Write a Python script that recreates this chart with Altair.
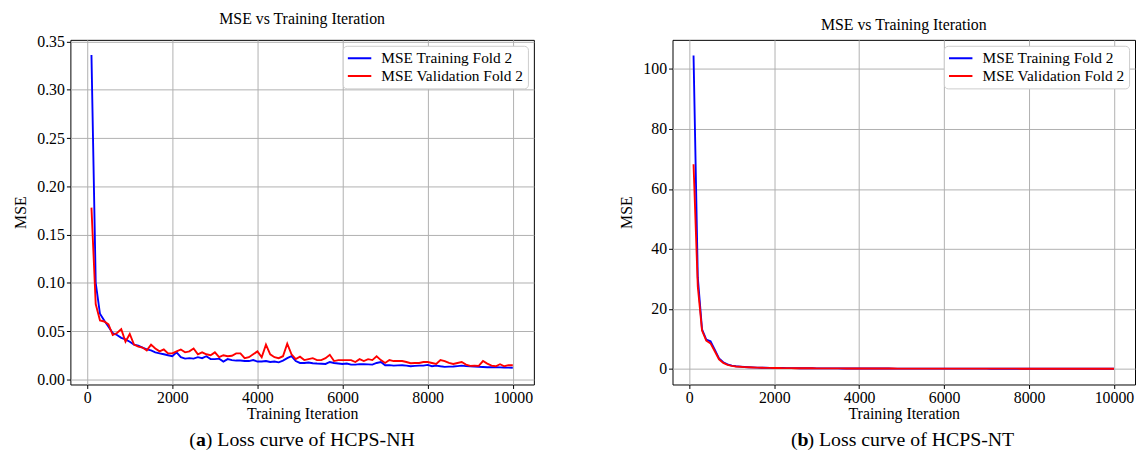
import altair as alt
import pandas as pd

# ---------------- data ----------------
iterations = list(range(100, 10001, 100))

series_names = ["MSE Training Fold 2", "MSE Validation Fold 2"]
series_colors = ["#0000ff", "#ff0000"]

x_ticks = [0, 2000, 4000, 6000, 8000, 10000]
nh_yticks = [0.0, 0.05, 0.10, 0.15, 0.20, 0.25, 0.30, 0.35]
nt_yticks = [0, 20, 40, 60, 80, 100]

nh_train = [
    0.336, 0.100, 0.068, 0.061, 0.0545, 0.048, 0.046, 0.043, 0.0415, 0.039,
    0.036, 0.035, 0.033, 0.031, 0.030, 0.028, 0.027, 0.026, 0.025, 0.024,
    0.028, 0.023, 0.0215, 0.022, 0.0215, 0.023, 0.022, 0.024, 0.021, 0.021,
    0.0215, 0.0185, 0.021, 0.020, 0.0195, 0.0195, 0.019, 0.019, 0.020, 0.0185,
    0.0185, 0.019, 0.018, 0.0185, 0.0177, 0.0195, 0.022, 0.024, 0.019, 0.017,
    0.017, 0.0175, 0.0167, 0.0164, 0.0162, 0.016, 0.018, 0.017, 0.0165, 0.016,
    0.0164, 0.0153, 0.0153, 0.0158, 0.0157, 0.0155, 0.0153, 0.017, 0.018, 0.0147,
    0.0148, 0.0143, 0.0145, 0.0147, 0.0142, 0.0136, 0.014, 0.0143, 0.0142, 0.015,
    0.0136, 0.0143, 0.0136, 0.013, 0.0132, 0.0133, 0.0138, 0.0143, 0.0138, 0.0136,
    0.0133, 0.013, 0.0128, 0.0126, 0.0127, 0.0126, 0.0125, 0.0123, 0.0122, 0.012,
]

nh_val = [
    0.178, 0.078, 0.061, 0.060, 0.057, 0.046, 0.048, 0.052, 0.039, 0.047,
    0.036, 0.034, 0.033, 0.030, 0.036, 0.032, 0.029, 0.031, 0.027, 0.027,
    0.029, 0.031, 0.028, 0.029, 0.032, 0.026, 0.028, 0.026, 0.025, 0.028,
    0.023, 0.025, 0.024, 0.0245, 0.027, 0.027, 0.022, 0.023, 0.026, 0.029,
    0.023, 0.036, 0.026, 0.023, 0.022, 0.024, 0.037, 0.026, 0.021, 0.0235,
    0.020, 0.021, 0.022, 0.020, 0.020, 0.022, 0.0255, 0.019, 0.020, 0.020,
    0.020, 0.020, 0.018, 0.021, 0.019, 0.021, 0.020, 0.024, 0.020, 0.017,
    0.020, 0.019, 0.019, 0.019, 0.018, 0.0167, 0.017, 0.017, 0.018, 0.018,
    0.017, 0.016, 0.020, 0.019, 0.017, 0.016, 0.017, 0.018, 0.0153, 0.014,
    0.0143, 0.014, 0.019, 0.0164, 0.0143, 0.0136, 0.0157, 0.0136, 0.0147, 0.0147,
]

nt_train = [
    104.5, 30.5, 13.2, 9.8, 9.2, 6.4, 3.5, 2.2, 1.5, 1.1,
    0.88, 0.74, 0.63, 0.55, 0.49, 0.44, 0.40, 0.37, 0.34, 0.32,
    0.30, 0.28, 0.265, 0.25, 0.24, 0.23, 0.22, 0.21, 0.20, 0.19,
    0.185, 0.18, 0.17, 0.165, 0.16, 0.155, 0.15, 0.145, 0.14, 0.135,
    0.13, 0.128, 0.125, 0.12, 0.118, 0.115, 0.112, 0.11, 0.107, 0.105,
    0.103, 0.10, 0.098, 0.096, 0.094, 0.092, 0.09, 0.088, 0.087, 0.085,
    0.084, 0.082, 0.081, 0.08, 0.078, 0.077, 0.076, 0.075, 0.074, 0.073,
    0.072, 0.071, 0.07, 0.069, 0.068, 0.067, 0.066, 0.066, 0.065, 0.064,
    0.063, 0.063, 0.062, 0.061, 0.06, 0.06, 0.059, 0.058, 0.058, 0.057,
    0.056, 0.056, 0.055, 0.055, 0.054, 0.054, 0.053, 0.053, 0.052, 0.052,
]

nt_val = [
    68.2, 27.5, 12.8, 9.4, 8.5, 5.9, 3.2, 2.0, 1.35, 1.0,
    0.82, 0.70, 0.60, 0.53, 0.47, 0.43, 0.39, 0.36, 0.33, 0.31,
    0.29, 0.27, 0.26, 0.245, 0.235, 0.225, 0.215, 0.205, 0.20, 0.19,
    0.185, 0.178, 0.172, 0.166, 0.16, 0.156, 0.151, 0.147, 0.143, 0.139,
    0.135, 0.131, 0.128, 0.125, 0.122, 0.119, 0.116, 0.114, 0.111, 0.109,
    0.107, 0.105, 0.103, 0.101, 0.099, 0.097, 0.095, 0.094, 0.092, 0.091,
    0.089, 0.088, 0.087, 0.086, 0.084, 0.083, 0.082, 0.081, 0.08, 0.079,
    0.078, 0.077, 0.076, 0.075, 0.074, 0.074, 0.073, 0.072, 0.071, 0.071,
    0.07, 0.069, 0.069, 0.068, 0.067, 0.067, 0.066, 0.066, 0.065, 0.065,
    0.064, 0.064, 0.063, 0.063, 0.062, 0.062, 0.061, 0.061, 0.06, 0.06,
]

captions = [("a", ") Loss curve of HCPS-NH"), ("b", ") Loss curve of HCPS-NT")]
title_text = "MSE vs Training Iteration"

# ---------------- styling ----------------
FONT = "Liberation Serif"
PLOT_W = 468
PLOT_H = 348
CAP_SIZE = 20


def make_df(train, val):
    rows = []
    for it, v in zip(iterations, train):
        rows.append({"iter": it, "mse": v, "series": series_names[0]})
    for it, v in zip(iterations, val):
        rows.append({"iter": it, "mse": v, "series": series_names[1]})
    return pd.DataFrame(rows)


def panel(train, val, ydomain, yticks, yfmt, caption, W, H):
    df = make_df(train, val)
    lines = alt.Chart(df).mark_line(strokeWidth=1.9, clip=True).encode(
        x=alt.X(
            "iter:Q",
            scale=alt.Scale(domain=[-395, 10495], nice=False, zero=False),
            axis=alt.Axis(values=x_ticks, format="d", title="Training Iteration",
                          labelFlush=False),
        ),
        y=alt.Y(
            "mse:Q",
            scale=alt.Scale(domain=ydomain, nice=False, zero=False),
            axis=alt.Axis(values=yticks, format=yfmt, title="MSE", labelFlush=False),
        ),
        color=alt.Color(
            "series:N",
            scale=alt.Scale(domain=series_names, range=series_colors),
            legend=alt.Legend(
                title=None,
                orient="top-right",
                offset=6,
                fillColor="white",
                strokeColor="#cccccc",
                cornerRadius=4,
                padding=4,
                labelFont=FONT,
                labelFontSize=15.5,
                labelColor="black",
                labelLimit=400,
                labelOffset=9,
                rowPadding=1,
                clipHeight=17,
                symbolType="stroke",
                symbolSize=560,
                symbolStrokeWidth=2,
            ),
        ),
    )

    letter, rest = caption
    w_open = 0.333 * CAP_SIZE
    w_letter = 0.5 * CAP_SIZE
    w_rest = 10.56 * CAP_SIZE
    total = w_open + w_letter + w_rest
    x0 = W / 2 - total / 2
    cap_y = H + 56
    one = pd.DataFrame({"k": [0]})
    c_open = alt.Chart(one).mark_text(
        text="(", font=FONT, fontSize=CAP_SIZE, align="left", baseline="middle", color="black"
    ).encode(x=alt.value(x0), y=alt.value(cap_y))
    c_letter = alt.Chart(one).mark_text(
        text=letter, font=FONT, fontSize=CAP_SIZE, fontWeight="bold", align="left",
        baseline="middle", color="black"
    ).encode(x=alt.value(x0 + w_open), y=alt.value(cap_y))
    c_rest = alt.Chart(one).mark_text(
        text=rest, font=FONT, fontSize=CAP_SIZE, align="left", baseline="middle", color="black"
    ).encode(x=alt.value(x0 + w_open + w_letter), y=alt.value(cap_y))

    return alt.layer(lines, c_open, c_letter, c_rest).properties(
        width=W,
        height=H,
        title=alt.TitleParams(title_text, font=FONT, fontSize=16, fontWeight="normal",
                              color="black", offset=7),
    )


left = panel(nh_train, nh_val, [-0.0053, 0.3518], nh_yticks, ".2f", captions[0], PLOT_W, PLOT_H)
right = panel(nt_train, nt_val, [-5.2, 109.7], nt_yticks, "d", captions[1], PLOT_W - 1, PLOT_H)

chart = (
    alt.hconcat(left, right, spacing=84)
    .resolve_scale(color="independent", x="independent", y="independent")
    .resolve_legend(color="independent")
    .configure_view(stroke="black", strokeWidth=1)
    .configure_axis(
        grid=True,
        gridColor="#b0b0b0",
        gridWidth=1,
        domain=False,
        tickColor="black",
        tickSize=4,
        tickWidth=1,
        labelFont=FONT,
        labelFontSize=16,
        labelColor="black",
        labelPadding=2,
        titleFont=FONT,
        titleFontSize=16,
        titleFontWeight="normal",
        titleColor="black",
    )
    .configure_axisX(titlePadding=0, labelPadding=1)
    .configure_axisY(titlePadding=8)
    .properties(padding={"left": 4, "top": 0, "right": 0, "bottom": 0}, background="white")
)

chart.save("out.html", embed_options={"renderer": "svg", "actions": False})
